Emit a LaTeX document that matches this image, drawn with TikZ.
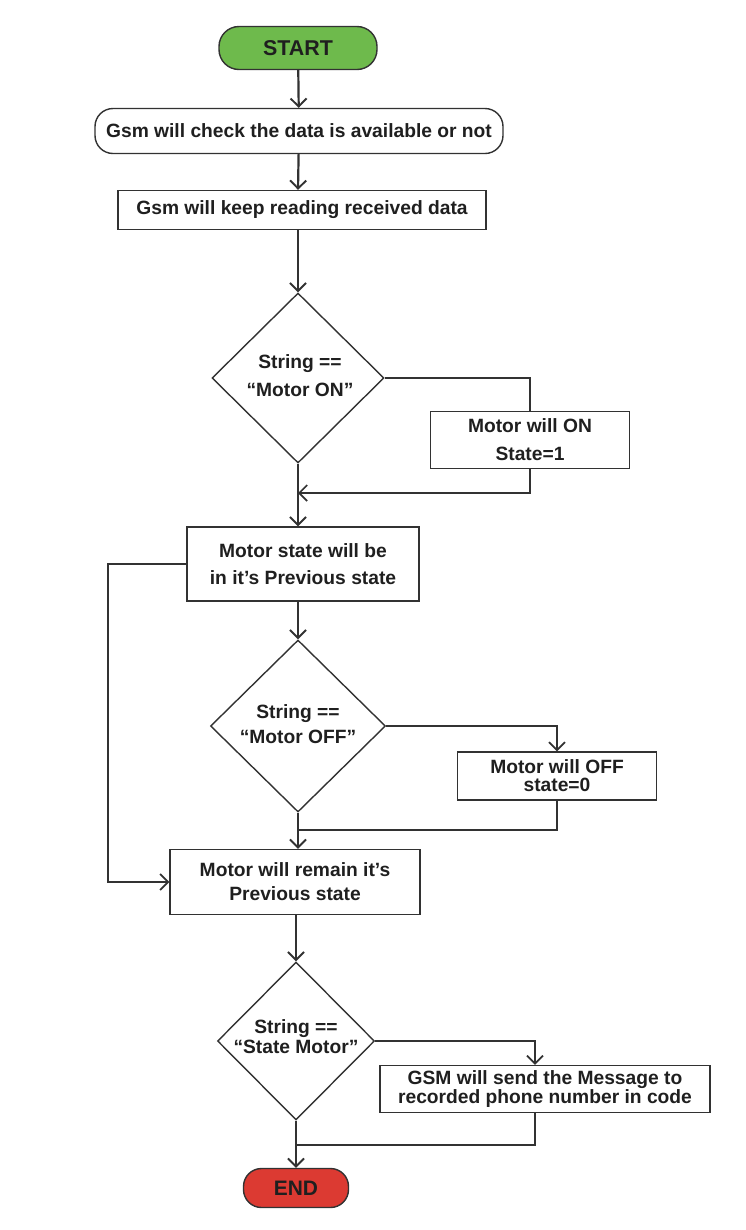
\documentclass[tikz,border=0pt]{standalone}
\usepackage{fontspec}
\setmainfont{Liberation Sans}
\usetikzlibrary{shapes.geometric,arrows.meta}
\definecolor{startgreen}{RGB}{110,186,76}
\definecolor{endred}{RGB}{220,58,50}
\definecolor{edge}{RGB}{50,50,50}
\tikzset{
  x=1bp, y=-1bp,
  every node/.style={font=\bfseries\fontsize{19.3}{23}\selectfont, text=black!88, inner sep=0pt, align=center},
  pill/.style={draw=edge, line width=1.4bp, rounded corners=20bp},
  rbox/.style={draw=edge, line width=1.4bp, rectangle},
  dec/.style={draw=edge, line width=1.4bp, diamond, inner sep=0pt},
  arr/.style={draw=edge, line width=2.2bp, -{Straight Barb[length=8bp,width=16bp,line width=1.9bp]}},
  thin/.style={draw=edge, line width=1.4bp},
  tharr/.style={draw=edge, line width=1.4bp, -{Straight Barb[length=8bp,width=16bp,line width=1.7bp]}},
}
\begin{document}
\begin{tikzpicture}
\useasboundingbox[fill=white] (0,0) rectangle (746,1230);
\node[pill, fill=startgreen, minimum width=158bp, minimum height=43bp, font=\bfseries\fontsize{21.5}{24}\selectfont] (start) at (298,48) {START};
\node[pill, rounded corners=18bp, minimum width=408bp, minimum height=45bp] (chk) at (299,131) {Gsm will check the data is available or not};
\node[rbox, minimum width=368bp, minimum height=39bp] (read) at (302,210) {Gsm will keep reading received data};
\node[dec, minimum width=172bp, minimum height=170bp] (d1) at (298,378) {};
\node at (300,376) {String ==\\[5bp]``Motor ON''};
\node[rbox, minimum width=199bp, minimum height=57bp] (on) at (530,440) {Motor will ON\\[5bp]State=1};
\node[rbox, minimum width=232bp, minimum height=74bp] (prev) at (303,564) {Motor state will be\\[4bp]in it's Previous state};
\node[dec, minimum width=175bp, minimum height=172bp] (d2) at (298,726) {};
\node at (298,724) {String ==\\[2bp]``Motor OFF''};
\node[rbox, minimum width=199bp, minimum height=48bp] (off) at (557,776) {Motor will OFF\\[-5bp]state=0};
\node[rbox, minimum width=250bp, minimum height=65bp] (remain) at (295,882) {Motor will remain it's\\[1bp]Previous state};
\node[dec, minimum width=157bp, minimum height=158bp] (d3) at (296,1041) {};
\node at (296,1037) {String ==\\[-3bp]``State Motor''};
\node[rbox, minimum width=330bp, minimum height=47bp] (gsm) at (545,1089) {GSM will send the Message to\\[-4bp]recorded phone number in code};
\node[pill, fill=endred, minimum width=105bp, minimum height=39bp, rounded corners=18bp, font=\bfseries\fontsize{21}{24}\selectfont] (end) at (296,1188) {END};
\coordinate (j1) at (298,493);
\coordinate (j2) at (298,830);
\coordinate (j3) at (296,1145);
\coordinate (lx) at (108,564);
\coordinate (bx) at (535,1000);
\draw[arr] (start) -- (chk);
\draw[arr] (chk) -- (start |- read.north);
\draw[arr] (read.south -| d1) -- (d1.north);
\draw[thin] (d1.east) -| (on.north);
\draw[tharr] (on.south) |- (j1);
\draw[arr] (d1.south) -- (d1.south |- prev.north);
\draw[tharr] (prev.west) -- (lx) |- (remain.west);
\draw[arr] (prev.south -| d2) -- (d2.north);
\draw[tharr] (d2.east) -| (off.north);
\draw[thin] (off.south) |- (j2);
\draw[arr] (d2.south) -- (d2.south |- remain.north);
\draw[arr] (remain.south -| d3) -- (d3.north);
\draw[tharr] (d3.east) -| (bx |- gsm.north);
\draw[thin] (bx |- gsm.south) |- (j3);
\draw[arr] (d3.south) -- (end.north);
\end{tikzpicture}
\end{document}
